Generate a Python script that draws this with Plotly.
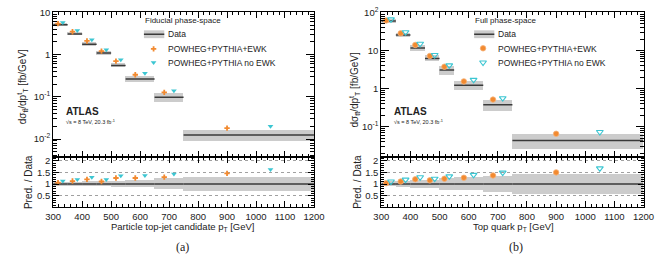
import math
import plotly.graph_objects as go

# ---------------- data ----------------
bin_edges = [300, 350, 400, 450, 500, 550, 650, 750, 1200]

# (a) fiducial phase-space, particle top-jet candidate pT
fid_data = [5.1, 3.08, 1.75, 1.09, 0.555, 0.264, 0.098, 0.0124]
fid_unc = [0.08, 0.09, 0.10, 0.11, 0.12, 0.16, 0.23, 0.29]
fid_ewk = [5.41, 3.48, 2.10, 1.21, 0.699, 0.333, 0.127, 0.0181]
fid_noewk = [5.76, 3.70, 2.26, 1.30, 0.755, 0.362, 0.140, 0.0202]

# (b) full phase-space, top quark pT
full_data = [59.0, 25.4, 11.6, 6.2, 3.06, 1.22, 0.377, 0.0437]
full_unc = [0.11, 0.13, 0.17, 0.18, 0.25, 0.27, 0.34, 0.43]
full_ewk = [61.4, 28.2, 14.0, 7.19, 3.76, 1.55, 0.516, 0.0656]
full_noewk = [65.5, 30.2, 15.0, 7.63, 4.07, 1.70, 0.562, 0.0730]

x_title_a = "Particle top-jet candidate p<sub>T</sub> [GeV]"
x_title_b = "Top quark p<sub>T</sub> [GeV]"
y_title = "dσ<sub>tt̄</sub>/dp<sup>t</sup><sub>T</sub> [fb/GeV]"
ratio_title = "Pred. / Data"
label_ewk = "POWHEG+PYTHIA+EWK"
label_noewk = "POWHEG+PYTHIA no EWK"

# ---------------- styles ----------------
ORANGE = "#f28a30"
CYAN = "#3cc6d2"
BAND = "#cccccc"
LINE = "#3a3a3a"
FONT = "Liberation Sans, Arial, sans-serif"

W, H = 663, 259
lo = bin_edges[:-1]
hi = bin_edges[1:]
widths = [b - a for a, b in zip(lo, hi)]
centers = [(a + b) / 2 for a, b in zip(lo, hi)]
x_ewk = [a + w / 3 for a, w in zip(lo, widths)]
x_noewk = [a + 2 * w / 3 for a, w in zip(lo, widths)]


def px_x(p):
    return p / W


def px_y(p):
    return 1 - p / H


# panel geometry (pixels)
L_x0, L_x1 = 46.5, 315.0
R_x0, R_x1 = 384.3, 654.3
T_y0, T_y1 = 5.5, 154.5
B_y1 = 206.0

fig = go.Figure()


def seg_lines(values):
    xs, ys = [], []
    for a, b, v in zip(lo, hi, values):
        xs += [a, b, None]
        ys += [v, v, None]
    return xs, ys


def add_panel(data, unc, ewk, noewk, xa, ya, xr, yr, ewk_sym, noewk_sym):
    base = [d * (1 - u) for d, u in zip(data, unc)]
    height = [d * 2 * u for d, u in zip(data, unc)]
    fig.add_trace(go.Bar(x=centers, y=height, base=base, width=widths,
                         marker=dict(color=BAND, line=dict(width=0)),
                         xaxis=xa, yaxis=ya, showlegend=False))
    xs, ys = seg_lines(data)
    fig.add_trace(go.Scatter(x=xs, y=ys, mode="lines", line=dict(color=LINE, width=1.5),
                             xaxis=xa, yaxis=ya, showlegend=False))
    fig.add_trace(go.Scatter(x=x_ewk, y=ewk, mode="markers", marker=ewk_sym,
                             xaxis=xa, yaxis=ya, showlegend=False))
    fig.add_trace(go.Scatter(x=x_noewk, y=noewk, mode="markers", marker=noewk_sym,
                             xaxis=xa, yaxis=ya, showlegend=False))
    rbase = [1 - u for u in unc]
    rheight = [2 * u for u in unc]
    fig.add_trace(go.Bar(x=centers, y=rheight, base=rbase, width=widths,
                         marker=dict(color=BAND, line=dict(width=0)),
                         xaxis=xr, yaxis=yr, showlegend=False))
    xs, ys = seg_lines([1.0] * len(data))
    fig.add_trace(go.Scatter(x=xs, y=ys, mode="lines", line=dict(color=LINE, width=1.5),
                             xaxis=xr, yaxis=yr, showlegend=False))
    fig.add_trace(go.Scatter(x=x_ewk, y=[p / d for p, d in zip(ewk, data)], mode="markers",
                             marker=ewk_sym, xaxis=xr, yaxis=yr, showlegend=False))
    fig.add_trace(go.Scatter(x=x_noewk, y=[p / d for p, d in zip(noewk, data)], mode="markers",
                             marker=noewk_sym, xaxis=xr, yaxis=yr, showlegend=False))


sym_a_ewk = dict(symbol="cross", size=4.5, color=ORANGE, line=dict(width=0))
sym_a_noewk = dict(symbol="triangle-down", size=5, color=CYAN, line=dict(width=0))
sym_b_ewk = dict(symbol="circle", size=5.5, color=ORANGE, line=dict(width=0.8, color="#f6b27a"))
sym_b_noewk = dict(symbol="triangle-down-open", size=6, color=CYAN, line=dict(width=1.1, color=CYAN))

add_panel(fid_data, fid_unc, fid_ewk, fid_noewk, "x", "y", "x2", "y2", sym_a_ewk, sym_a_noewk)
add_panel(full_data, full_unc, full_ewk, full_noewk, "x3", "y3", "x4", "y4", sym_b_ewk, sym_b_noewk)

# legend markers on overlay unit axes
fig.add_trace(go.Scatter(x=[0.385], y=[0.748], mode="markers", marker=sym_a_ewk,
                         xaxis="x5", yaxis="y5", showlegend=False))
fig.add_trace(go.Scatter(x=[0.385], y=[0.654], mode="markers", marker=sym_a_noewk,
                         xaxis="x5", yaxis="y5", showlegend=False))
fig.add_trace(go.Scatter(x=[0.388], y=[0.752], mode="markers", marker=sym_b_ewk,
                         xaxis="x6", yaxis="y6", showlegend=False))
fig.add_trace(go.Scatter(x=[0.388], y=[0.654], mode="markers", marker=sym_b_noewk,
                         xaxis="x6", yaxis="y6", showlegend=False))

dom_Lx = [px_x(L_x0), px_x(L_x1)]
dom_Rx = [px_x(R_x0), px_x(R_x1)]
dom_T = [px_y(T_y1), px_y(T_y0)]
dom_B = [px_y(B_y1), px_y(T_y1)]

tickfont = dict(family=FONT, size=9.5, color="#222")


def xaxis(dom, anchor, labels):
    return dict(domain=dom, anchor=anchor, range=[300, 1200], tickmode="linear", tick0=300,
                dtick=100, ticks="inside", ticklen=6, tickcolor="black", showline=True,
                linecolor="black", linewidth=1, mirror="allticks", showgrid=False,
                zeroline=False, showticklabels=labels, tickfont=tickfont,
                minor=dict(ticks="inside", ticklen=3, dtick=20, tick0=300, tickcolor="black"))


def minor_log(lo_exp, hi_exp):
    vals = []
    for e in range(lo_exp, hi_exp + 1):
        for k in range(2, 10):
            vals.append(k * 10.0 ** e)
    return vals


def sup_label(v):
    e = int(round(math.log10(v)))
    if e == 0:
        return "1"
    if e == 1:
        return "10"
    return "10<sup>%d</sup>" % e


def ylog(dom, anchor, rng, tv):
    return dict(domain=dom, anchor=anchor, type="log", range=rng, tickmode="array",
                tickvals=tv, ticktext=[sup_label(v) for v in tv], ticks="inside", ticklen=8,
                tickcolor="black", showline=True, linecolor="black", linewidth=1,
                mirror="allticks", showgrid=False, zeroline=False, tickfont=tickfont,
                minor=dict(ticks="inside", ticklen=4, tickmode="array",
                           tickvals=minor_log(-3, 2), tickcolor="black"))


def yratio(dom, anchor):
    return dict(domain=dom, anchor=anchor, range=[0, 2.146], tickmode="array",
                tickvals=[0.5, 1, 1.5, 2], ticktext=["0.5", "1", "1.5", "2"],
                ticks="inside", ticklen=6, tickcolor="black", showline=True,
                linecolor="black", linewidth=1, mirror="allticks", showgrid=True,
                gridcolor="#a0a0a0", griddash="dot", gridwidth=1, zeroline=False,
                tickfont=tickfont,
                minor=dict(ticks="inside", ticklen=3, dtick=0.1, tick0=0, tickcolor="black"))


fig.update_layout(
    width=W, height=H, margin=dict(l=0, r=0, t=0, b=0),
    paper_bgcolor="white", plot_bgcolor="rgba(0,0,0,0)",
    barmode="overlay", bargap=0, showlegend=False,
    font=dict(family=FONT, size=10, color="#222"),
    xaxis=xaxis(dom_Lx, "y", False),
    yaxis=ylog(dom_T, "x", [-2.433, 1.0], [0.01, 0.1, 1, 10]),
    xaxis2=xaxis(dom_Lx, "y2", True),
    yaxis2=yratio(dom_B, "x2"),
    xaxis3=xaxis(dom_Rx, "y3", False),
    yaxis3=ylog(dom_T, "x3", [-1.80, 2.0], [0.1, 1, 10, 100]),
    xaxis4=xaxis(dom_Rx, "y4", True),
    yaxis4=yratio(dom_B, "x4"),
    xaxis5=dict(domain=dom_Lx, anchor="y5", overlaying="x", range=[0, 1], visible=False),
    yaxis5=dict(domain=dom_T, anchor="x5", overlaying="y", range=[0, 1], visible=False),
    xaxis6=dict(domain=dom_Rx, anchor="y6", overlaying="x3", range=[0, 1], visible=False),
    yaxis6=dict(domain=dom_T, anchor="x6", overlaying="y3", range=[0, 1], visible=False),
)

# thicker separator between panels
for xr in ("x", "x3"):
    fig.add_shape(type="line", xref=xr + " domain", yref="paper", x0=0, x1=1,
                  y0=px_y(T_y1), y1=px_y(T_y1), line=dict(color="black", width=1.5))

ann = []


def text(xref, yref, x, y, s, size, xanchor="left", **kw):
    ann.append(dict(xref=xref, yref=yref, x=x, y=y, text=s, showarrow=False,
                    xanchor=xanchor, yanchor="middle",
                    font=dict(family=kw.pop("family", FONT), size=size, color="#222"), **kw))


for xr, yr, title, box in (("x", "y", "Fiducial phase-space", (0.348, 0.426, 0.434)),
                           ("x3", "y3", "Full phase-space", (0.354, 0.431, 0.439))):
    xd, yd = xr + " domain", yr + " domain"
    text(xd, yd, box[0] - 0.004, 0.943, title, 8)
    fig.add_shape(type="rect", xref=xd, yref=yd, x0=box[0], x1=box[1], y0=0.822, y1=0.876,
                  fillcolor=BAND, line=dict(width=0))
    fig.add_shape(type="line", xref=xd, yref=yd, x0=box[0], x1=box[1], y0=0.849, y1=0.849,
                  line=dict(color=LINE, width=1.5))
    text(xd, yd, box[2], 0.849, "Data", 8.5)
    text(xd, yd, box[2], 0.748, label_ewk, 8.5)
    text(xd, yd, box[2], 0.654, label_noewk, 8.5)
    text(xd, yd, 0.04, 0.319, "<b>ATLAS</b>", 10)
    text(xd, yd, 0.04, 0.243, "√s = 8 TeV, 20.3 fb<sup>-1</sup>", 5.5)

# axis titles
text("paper", "paper", px_x(180), px_y(226.5), x_title_a, 9.5, xanchor="center")
text("paper", "paper", px_x(520), px_y(226.5), x_title_b, 9.5, xanchor="center")
text("paper", "paper", px_x(15), px_y(82), y_title, 10, xanchor="center", textangle=-90)
text("paper", "paper", px_x(20.5), px_y(180), ratio_title, 10, xanchor="center", textangle=-90)
text("paper", "paper", px_x(357), px_y(85), y_title, 10, xanchor="center", textangle=-90)
text("paper", "paper", px_x(359), px_y(180), ratio_title, 10, xanchor="center", textangle=-90)
text("paper", "paper", px_x(180), px_y(247), "(a)", 12, xanchor="center",
     family="Liberation Serif, Times New Roman, serif")
text("paper", "paper", px_x(523), px_y(247), "(b)", 12, xanchor="center",
     family="Liberation Serif, Times New Roman, serif")

fig.update_layout(annotations=ann)
fig.write_html("out.html")
